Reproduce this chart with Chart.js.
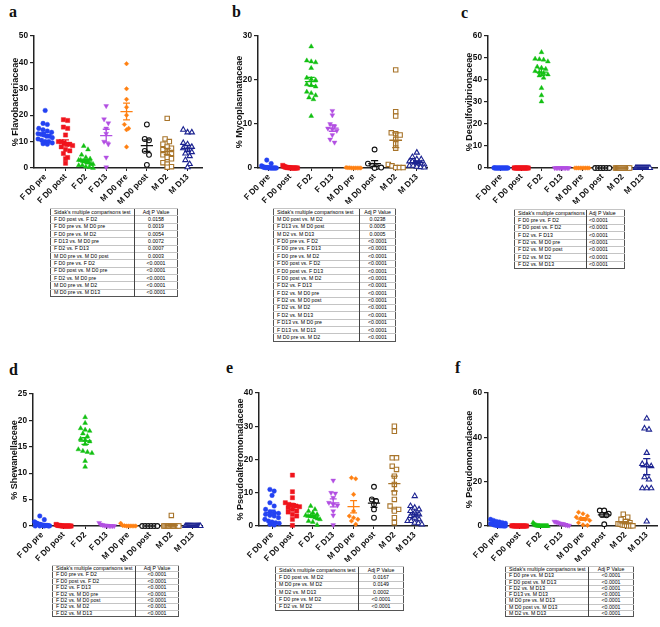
<!DOCTYPE html>
<html>
<head>
<meta charset="utf-8">
<script src="https://cdn.jsdelivr.net/npm/chart.js@4.4.1/dist/chart.umd.min.js"></script>
<style>
body{margin:0;width:660px;height:627px;overflow:hidden;background:#fff;position:relative;font-family:"Liberation Sans",Arial,sans-serif}
canvas{position:absolute}
.lt{position:absolute;font:bold 16px "Liberation Serif","Times New Roman",serif;line-height:1;color:#111}
table.st{position:absolute;border-collapse:collapse;table-layout:fixed;font-size:5.2px;border:1px solid #555;color:#000}
table.st td{border-top:1px solid #c4c4c4;padding:0 0 0 3px;white-space:nowrap;overflow:hidden;line-height:1}
table.st td+td{border-left:1px solid #444;text-align:center;padding:0}
table.st.left td+td{text-align:left;padding-left:2px}
table.st tr:first-child td{font-weight:bold;border-bottom:1px solid #555}
</style>
</head>
<body>
<script>
const cats = ['F D0 pre', 'F D0 post', 'F D2', 'F D13', 'M D0 pre', 'M D0 post', 'M D2', 'M D13'];

// values per group, in category order
const flavo = [
  [21.8, 16.9, 16.5, 15.0, 14.5, 14.0, 13.5, 13.0, 12.8, 12.5, 12.0, 12.0, 11.5, 11.0, 10.5, 10.0, 10.0, 9.5, 9.2, 9.0],
  [18.3, 18.0, 15.5, 15.0, 12.5, 10.0, 10.0, 9.5, 9.0, 9.0, 8.5, 8.0, 7.0, 6.5, 5.5, 4.0, 3.5, 1.8],
  [8.3, 7.0, 5.0, 4.0, 3.5, 3.0, 3.0, 2.5, 2.5, 2.0, 2.0, 1.5, 1.5, 1.0, 1.0, 0.5, 0.3, 0.0],
  [23.5, 18.5, 17.0, 15.0, 13.0, 10.0, 9.0, 4.0, 0.3],
  [39.5, 30.0, 26.0, 23.0, 20.0, 16.5, 15.0, 14.5, 8.0],
  [16.5, 11.0, 10.5, 6.5, 5.0, 1.2],
  [18.8, 11.0, 10.0, 9.0, 8.0, 7.5, 7.0, 6.0, 5.5, 5.0, 4.0, 3.5, 2.0, 1.5, 0.5, 0.3],
  [14.5, 13.5, 13.5, 9.5, 9.0, 8.0, 7.5, 7.0, 6.0, 5.5, 4.5, 3.0, 1.5, 0.3]
];
const myco = [
  [1.8, 1.0, 0.5, 0.3, 0.2, 0.2, 0.1, 0.1, 0.1, 0.1, 0.05, 0.05, 0, 0, 0, 0, 0, 0, 0, 0],
  [0.6, 0.4, 0.3, 0.2, 0.2, 0.1, 0.1, 0.1, 0.05, 0.05, 0, 0, 0, 0, 0, 0, 0, 0],
  [27.6, 24.4, 24.2, 24.0, 22.7, 20.5, 20.2, 20.0, 19.0, 18.8, 18.5, 17.3, 17.0, 16.5, 16.0, 15.6, 11.8],
  [13.0, 12.0, 10.0, 9.5, 9.0, 8.8, 8.5, 7.5, 6.5, 5.8],
  [0.1, 0.05, 0.05, 0, 0, 0, 0, 0, 0],
  [4.2, 1.0, 0.5, 0.2, 0.1, 0],
  [22.3, 12.8, 11.8, 8.0, 7.8, 7.5, 6.5, 5.5, 4.5, 0.8, 0.5, 0.1, 0.1, 0.1],
  [3.5, 2.5, 2.0, 2.0, 1.5, 1.5, 1.2, 1.0, 1.0, 0.8, 0.5, 0.5, 0.3, 0.2, 0.1]
];
const desulfo = [
  [0.1, 0.05, 0, 0, 0, 0, 0, 0, 0, 0, 0, 0, 0, 0, 0, 0, 0, 0, 0, 0],
  [0.05, 0, 0, 0, 0, 0, 0, 0, 0, 0, 0, 0, 0, 0, 0, 0, 0, 0],
  [52.6, 49.6, 49.4, 49.2, 48.4, 46.0, 45.5, 45.0, 44.0, 43.5, 43.0, 42.5, 42.0, 41.0, 36.3, 33.0, 30.2],
  [0, 0, 0, 0, 0, 0, 0, 0, 0, 0],
  [0, 0, 0, 0, 0, 0, 0, 0, 0],
  [0, 0, 0, 0, 0, 0],
  [0, 0, 0, 0, 0, 0, 0, 0, 0, 0, 0, 0, 0, 0],
  [0, 0, 0, 0, 0, 0, 0, 0, 0, 0, 0, 0, 0, 0, 0]
];
const shewan = [
  [1.9, 1.2, 0.8, 0.6, 0.5, 0.4, 0.3, 0.3, 0.2, 0.2, 0.1, 0.1, 0.1, 0.1, 0.05, 0.05, 0, 0, 0, 0],
  [0.3, 0.2, 0.1, 0.1, 0.1, 0.05, 0.05, 0, 0, 0, 0, 0, 0, 0, 0, 0, 0, 0],
  [20.6, 19.5, 18.5, 18.2, 18.0, 17.5, 17.0, 16.5, 16.3, 16.0, 15.5, 14.5, 14.2, 14.0, 13.8, 12.3, 11.2],
  [0.6, 0.3, 0.2, 0.1, 0.1, 0.05, 0, 0, 0, 0],
  [0.5, 0.1, 0.05, 0, 0, 0, 0, 0, 0],
  [0, 0, 0, 0, 0, 0],
  [2.0, 0, 0, 0, 0, 0, 0, 0, 0, 0, 0, 0, 0, 0],
  [0, 0, 0, 0, 0, 0, 0, 0, 0, 0, 0, 0, 0, 0, 0]
];
const pseudoalt = [
  [11.0, 10.5, 9.2, 7.0, 6.0, 5.0, 4.2, 4.0, 3.8, 3.5, 3.2, 3.0, 2.5, 2.0, 1.5, 1.2, 1.0, 0.8, 0.5, 0.3],
  [15.3, 10.3, 8.5, 7.0, 6.5, 6.3, 6.0, 5.8, 5.5, 5.0, 4.5, 4.2, 3.5, 3.0, 2.0, 0.2],
  [6.0, 5.0, 4.5, 4.0, 3.5, 3.2, 3.0, 3.0, 2.8, 2.5, 2.2, 2.0, 1.5, 1.2, 0.3],
  [13.7, 10.0, 9.8, 8.5, 7.0, 6.5, 6.2, 4.5, 3.2, 0.3],
  [14.5, 14.2, 9.5, 4.5, 3.0, 2.5, 2.0, 1.5, 0.5],
  [11.8, 8.0, 7.5, 6.5, 5.0, 2.5],
  [30.0, 28.5, 20.5, 20.5, 18.0, 17.0, 15.0, 12.5, 10.0, 8.0, 6.0, 5.0, 5.0, 4.5, 2.5, 1.0],
  [9.0, 6.0, 5.5, 5.0, 4.5, 4.0, 3.5, 3.0, 2.5, 2.0, 1.5, 1.5, 1.0, 0.8, 0.5]
];
const pseudomon = [
  [3.0, 2.5, 2.0, 1.8, 1.5, 1.2, 1.0, 1.0, 0.8, 0.5, 0.5, 0.3, 0.2, 0.2, 0.1, 0.1, 0.1, 0.05, 0.05, 0],
  [0.1, 0.05, 0.05, 0, 0, 0, 0, 0, 0, 0, 0, 0, 0, 0, 0, 0, 0, 0],
  [1.5, 1.0, 0.5, 0.3, 0.2, 0.1, 0.1, 0.05, 0, 0, 0, 0, 0, 0, 0, 0, 0],
  [2.0, 1.8, 1.5, 1.2, 1.0, 0.8, 0.5, 0.3, 0.2],
  [6.2, 5.5, 4.5, 4.0, 3.5, 3.0, 2.5, 1.5, 0.5, 0.3],
  [7.0, 7.0, 5.5, 5.0, 4.8, 0.8],
  [5.3, 4.0, 3.0, 2.0, 1.5, 1.0, 0.8, 0.5, 0.3, 0.2, 0.1, 0.1, 0.1],
  [48.5, 44.0, 43.5, 33.0, 28.0, 27.5, 27.0, 22.0, 21.0, 17.0, 17.0, 17.0, 2.0]
];

const tabHead = ["Sidak's multiple comparisons test", 'Adj P Value'];
const tabA = [
  ['F D0 post vs. F D2', '0.0158'], ['F D0 pre vs. M D0 pre', '0.0019'], ['F D0 pre vs. M D2', '0.0054'],
  ['F D13 vs. M D0 pre', '0.0072'], ['F D2 vs. F D13', '0.0007'], ['M D0 pre vs. M D0 post', '0.0003'],
  ['F D0 pre vs. F D2', '<0.0001'], ['F D0 post vs. M D0 pre', '<0.0001'], ['F D2 vs. M D0 pre', '<0.0001'],
  ['M D0 pre vs. M D2', '<0.0001'], ['M D0 pre vs. M D13', '<0.0001']
];
const tabB = [
  ['M D0 post vs. M D2', '0.0238'], ['F D13 vs. M D0 post', '0.0005'], ['M D2 vs. M D13', '0.0005'],
  ['F D0 pre vs. F D2', '<0.0001'], ['F D0 pre vs. F D13', '<0.0001'], ['F D0 pre vs. M D2', '<0.0001'],
  ['F D0 post vs. F D2', '<0.0001'], ['F D0 post vs. F D13', '<0.0001'], ['F D0 post vs. M D2', '<0.0001'],
  ['F D2 vs. F D13', '<0.0001'], ['F D2 vs. M D0 pre', '<0.0001'], ['F D2 vs. M D0 post', '<0.0001'],
  ['F D2 vs. M D2', '<0.0001'], ['F D2 vs. M D13', '<0.0001'], ['F D13 vs. M D0 pre', '<0.0001'],
  ['F D13 vs. M D13', '<0.0001'], ['M D0 pre vs. M D2', '<0.0001']
];
const tabC = [
  ['F D0 pre vs. F D2', '<0.0001'], ['F D0 post vs. F D2', '<0.0001'], ['F D2 vs. F D13', '<0.0001'],
  ['F D2 vs. M D0 pre', '<0.0001'], ['F D2 vs. M D0 post', '<0.0001'], ['F D2 vs. M D2', '<0.0001'],
  ['F D2 vs. M D13', '<0.0001']
];
const tabD = [
  ['F D0 pre vs. F D2', '<0.0001'], ['F D0 post vs. F D2', '<0.0001'], ['F D2 vs. F D13', '<0.0001'],
  ['F D2 vs. M D0 pre', '<0.0001'], ['F D2 vs. M D0 post', '<0.0001'], ['F D2 vs. M D2', '<0.0001'],
  ['F D2 vs. M D13', '<0.0001']
];
const tabE = [
  ['F D0 post vs. M D2', '0.0167'], ['M D0 pre vs. M D2', '0.0149'], ['M D2 vs. M D13', '0.0002'],
  ['F D0 pre vs. M D2', '<0.0001'], ['F D2 vs. M D2', '<0.0001']
];
const tabF = [
  ['F D0 pre vs. M D13', '<0.0001'], ['F D0 post vs. M D13', '<0.0001'], ['F D2 vs. M D13', '<0.0001'],
  ['F D13 vs. M D13', '<0.0001'], ['M D0 pre vs. M D13', '<0.0001'], ['M D0 post vs. M D13', '<0.0001'],
  ['M D2 vs. M D13', '<0.0001']
];

// marker styles per group
const colors = ['#2342f2', '#f0141c', '#12c012', '#b24fe2', '#ff8012', '#111111', '#a8742a', '#1b2290'];
const shapes = ['circle', 'rect', 'triangle', 'triangle', 'rectRot', 'circle', 'rect', 'triangle'];
const rotate = [0, 0, 0, 180, 0, 0, 0, 0];
const radius = [2.3, 3.0, 2.8, 2.8, 2.3, 2.4, 3.1, 3.0];
const hollow = [false, false, false, false, false, true, true, true];

const FONT = '"Liberation Sans", Arial, sans-serif';

// lay points of one column side by side when they are close in y (like a column scatter)
function spread(vals, ymax, plotH) {
  const tol = 4 * ymax / plotH;
  const s = vals.slice().sort((a, b) => b - a);
  const out = [];
  let i = 0;
  while (i < s.length) {
    let j = i;
    while (j < s.length && s[i] - s[j] < tol) j++;
    const n = j - i;
    const step = n > 1 ? Math.min(0.21, 0.7 / (n - 1)) : 0;
    for (let k = 0; k < n; k++) out.push({ dx: (k - (n - 1) / 2) * step, y: s[i + k] });
    i = j;
  }
  return out;
}

const meanSem = {
  id: 'meanSem',
  afterDatasetsDraw(chart) {
    const { ctx, scales: { x, y } } = chart;
    ctx.save();
    ctx.lineWidth = 1.3;
    chart.data.datasets.forEach((ds, i) => {
      const v = ds.raw, n = v.length;
      const m = v.reduce((a, b) => a + b, 0) / n;
      const sd = Math.sqrt(v.reduce((a, b) => a + (b - m) ** 2, 0) / (n - 1));
      const se = sd / Math.sqrt(n);
      const c = i + 1;
      ctx.strokeStyle = colors[i];
      ctx.beginPath();
      ctx.moveTo(x.getPixelForValue(c - 0.3), y.getPixelForValue(m));
      ctx.lineTo(x.getPixelForValue(c + 0.3), y.getPixelForValue(m));
      [m - se, m + se].forEach(e => {
        ctx.moveTo(x.getPixelForValue(c - 0.17), y.getPixelForValue(e));
        ctx.lineTo(x.getPixelForValue(c + 0.17), y.getPixelForValue(e));
      });
      ctx.moveTo(x.getPixelForValue(c), y.getPixelForValue(m - se));
      ctx.lineTo(x.getPixelForValue(c), y.getPixelForValue(m + se));
      ctx.stroke();
    });
    ctx.restore();
  }
};

const panels = [
  { letter: 'a', lx: 9, ly: 4, vals: flavo, title: '% Flavobacteriaceae', ymax: 50, step: 10,
    ax: 34, top: 36, bot: 168, right: 203, xr: [0.45, 8.75], tab: tabA, tb: [50, 208, 127, 89, 84] },
  { letter: 'b', lx: 232, ly: 4, vals: myco, title: '% Mycoplasmataceae', ymax: 30, step: 10,
    ax: 258, top: 36, bot: 168, right: 428, xr: [0.48, 8.52], tab: tabB, tb: [273, 208, 122, 134, 86] },
  { letter: 'c', lx: 461, ly: 5, vals: desulfo, title: '% Desulfovibrionaceae', ymax: 60, step: 10,
    ax: 488, top: 36, bot: 168, right: 658, xr: [0.36, 8.74], tab: tabC, tb: [514, 209, 110, 60, 72], left: true },
  { letter: 'd', lx: 9, ly: 362, vals: shewan, title: '% Shewanellaceae', ymax: 25, step: 5,
    ax: 33, top: 394, bot: 526, right: 203, xr: [0.58, 8.46], tab: tabD, tb: [52, 565, 126, 52, 83] },
  { letter: 'e', lx: 226, ly: 360, vals: pseudoalt, title: '% Pseudoalteromonadaceae', ymax: 40, step: 10,
    ax: 259, top: 393, bot: 526, right: 428, xr: [0.36, 8.64], tab: tabE, tb: [275, 566, 128, 45, 83] },
  { letter: 'f', lx: 455, ly: 360, vals: pseudomon, title: '% Pseudomonadaceae', ymax: 60, step: 20,
    ax: 488, top: 393, bot: 526, right: 658, xr: [0.53, 8.52], tab: tabF, tb: [505, 566, 128, 51, 83] }
];

const YW = 26, XH = 36, PT = 8, PR = 4;

panels.forEach(p => {
  const lt = document.createElement('div');
  lt.className = 'lt';
  lt.textContent = p.letter;
  lt.style.left = p.lx + 'px';
  lt.style.top = p.ly + 'px';
  document.body.appendChild(lt);

  const cv = document.createElement('canvas');
  const w = p.right - p.ax + YW + PR, h = p.bot - p.top + PT + XH;
  cv.width = w; cv.height = h;
  cv.style.left = (p.ax - YW) + 'px';
  cv.style.top = (p.top - PT) + 'px';
  cv.style.width = w + 'px'; cv.style.height = h + 'px';
  document.body.appendChild(cv);

  new Chart(cv, {
    type: 'scatter',
    data: {
      datasets: p.vals.map((v, i) => ({
        raw: v,
        data: spread(v, p.ymax, p.bot - p.top).map(q => ({ x: i + 1 + q.dx, y: q.y })),
        pointStyle: shapes[i],
        pointRotation: rotate[i],
        pointRadius: radius[i],
        pointHoverRadius: radius[i],
        pointBackgroundColor: hollow[i] ? '#ffffff' : colors[i],
        pointBorderColor: colors[i],
        pointBorderWidth: hollow[i] ? 1.1 : 0.4,
        clip: false
      }))
    },
    options: {
      responsive: false,
      animation: false,
      events: [],
      layout: { padding: { left: 0, top: PT, right: PR, bottom: 0 } },
      plugins: { legend: { display: false }, tooltip: { enabled: false } },
      scales: {
        x: {
          type: 'linear', min: p.xr[0], max: p.xr[1],
          afterBuildTicks: s => { s.ticks = cats.map((c, i) => ({ value: i + 1 })); },
          afterFit: s => { s.height = XH; },
          ticks: {
            autoSkip: false, minRotation: 45, maxRotation: 45, padding: 1, color: '#111',
            font: { family: FONT, size: 8.3, weight: 'bold' },
            callback: v => cats[v - 1] || ''
          },
          grid: { drawOnChartArea: false, tickLength: 3, color: '#222', lineWidth: 1 },
          border: { color: '#222', width: 1.5 }
        },
        y: {
          min: 0, max: p.ymax,
          afterFit: s => { s.width = YW; },
          ticks: { stepSize: p.step, padding: 2, color: '#111', font: { family: FONT, size: 8.3, weight: 'bold' } },
          grid: { drawOnChartArea: false, tickLength: 4, color: '#222', lineWidth: 1.2 },
          border: { color: '#222', width: 1.5 },
          title: { display: true, text: p.title, color: '#111', padding: { top: 2, bottom: 0 },
            font: { family: FONT, size: 9, weight: 'bold' } }
        }
      }
    },
    plugins: [meanSem]
  });

  const [tx, ty, tw, th, c1] = p.tb;
  const t = document.createElement('table');
  t.className = 'st' + (p.left ? ' left' : '');
  t.style.left = tx + 'px'; t.style.top = ty + 'px';
  t.style.width = tw + 'px'; t.style.height = th + 'px';
  const cg = document.createElement('colgroup');
  cg.innerHTML = `<col style="width:${c1}px"><col style="width:${tw - c1}px">`;
  t.appendChild(cg);
  [tabHead, ...p.tab].forEach(r => {
    const tr = document.createElement('tr');
    r.forEach(c => { const td = document.createElement('td'); td.textContent = c; tr.appendChild(td); });
    t.appendChild(tr);
  });
  document.body.appendChild(t);
});
</script>
</body>
</html>
